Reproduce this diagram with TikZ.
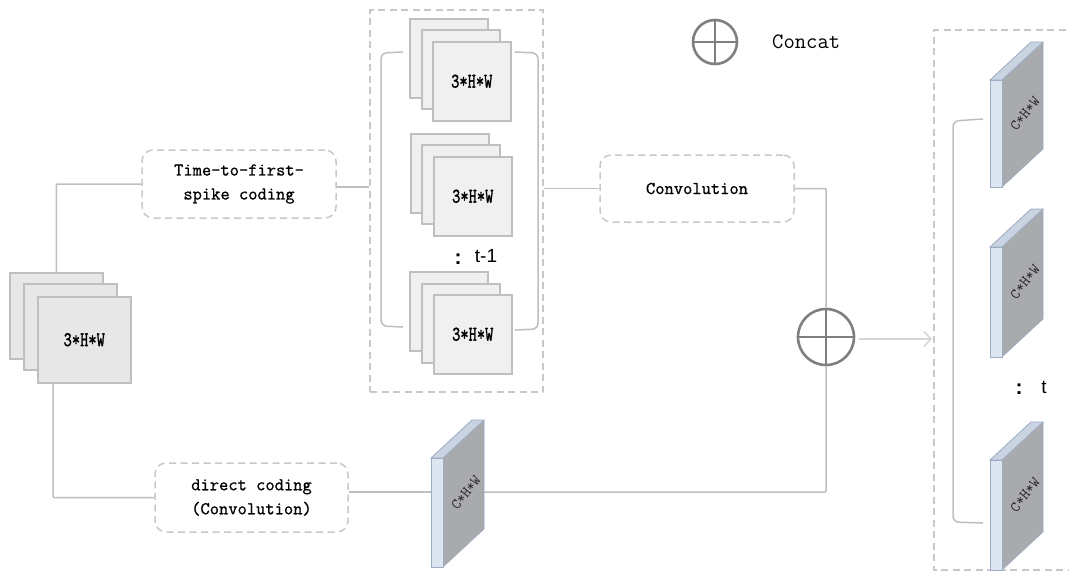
\documentclass[tikz,border=0pt]{standalone}
\usepackage{fontspec}
\usetikzlibrary{arrows.meta,calc}
\newfontfamily\labmono[FakeBold=0.9]{Latin Modern Mono}
\newfontfamily\labmonolt{Latin Modern Mono}
\newfontfamily\labmonob[FakeBold=1.8]{Latin Modern Mono}
\newfontfamily\labsans{Liberation Sans}
\definecolor{lg}{HTML}{BFBFBF}
\definecolor{dg}{HTML}{C8C8C8}
\definecolor{stkfill}{HTML}{F0F0F0}
\definecolor{lstkfill}{HTML}{E7E7E7}
\definecolor{cgray}{HTML}{7F7F7F}
\definecolor{slabgray}{HTML}{A8AAAE}
\definecolor{slabfront}{HTML}{DDE5F0}
\definecolor{slabtop}{HTML}{C9D3E2}
\definecolor{slabedge}{HTML}{9DACC2}
\definecolor{arrgray}{HTML}{D6D6D6}
\newcommand\drawslab[4]{% x, ytop, ybot, name
  \fill[slabgray] (#1+12,#2) -- (#1+53,#2-38) -- (#1+53,#3-38) -- (#1+12,#3) -- cycle;
  \filldraw[fill=slabtop,draw=slabedge,line width=0.8pt] (#1,#2) -- (#1+12,#2) -- (#1+53,#2-38) -- (#1+41,#2-38) -- cycle;
  \filldraw[fill=slabfront,draw=slabedge,line width=0.8pt] (#1,#2) rectangle (#1+12,#3);
  \draw[slabedge,line width=0.6pt] (#1+12,#3) -- (#1+53,#3-38) -- (#1+53,#2-38);
  \node[slabtxt] (#4) at (#1+35,{(#2+#3)/2-20}) {C*H*W};
}
\begin{document}
\begin{tikzpicture}[x=1pt,y=-1pt,
  conn/.style={draw=lg,line width=1.5pt,rounded corners=1pt},
  dbox/.style={draw=dg,line width=1.5pt,dash pattern=on 7pt off 4.5pt,rounded corners=11pt,
     font=\labmono\fontsize{18}{24}\selectfont,align=center,inner sep=0pt},
  dframe/.style={draw=dg,line width=1.5pt,dash pattern=on 7pt off 4.5pt},
  stk/.style={draw=lg,fill=stkfill,line width=1.5pt,minimum width=78pt,minimum height=79pt,
     inner sep=0pt,anchor=north west,font=\labmonob\fontsize{16}{16}\selectfont},
  lstk/.style={stk,fill=lstkfill,minimum width=93pt,minimum height=86pt},
  slabtxt/.style={rotate=52,inner sep=0pt,font=\labmonolt\fontsize{15}{15}\selectfont,text=black!85},
  ctxt/.style={font=\labsans\bfseries\fontsize{21}{21}\selectfont,inner sep=0pt},
  ttxt/.style={font=\labsans\fontsize{19}{19}\selectfont,inner sep=0pt},
  concat/.style={circle,draw=cgray,line width=2.6pt,inner sep=0pt}]
\useasboundingbox (0,0) rectangle (1069,581);
\clip (0,0) rectangle (1069,581);
\fill[white] (0,0) rectangle (1069,581);

% left input stack
\node[lstk] (ls1) at (9,272) {};
\node[lstk] (ls2) at (23,283) {};
\node[lstk] (ls3) at (37,296) {\scalebox{1}[1.3]{3*H*W}};

% coding boxes
\node[dbox,minimum width=194pt,minimum height=68pt] (tfs) at (239,184) {Time-to-first-\\spike coding};
\node[dbox,minimum width=193pt,minimum height=69pt] (dc) at (251.5,497.5) {direct coding\\(Convolution)};
\node[dbox,minimum width=194pt,minimum height=67pt] (conv) at (697,188.5) {Convolution};

% middle container
\node[dframe,minimum width=173pt,minimum height=382pt,inner sep=0pt] (midc) at (456.5,201) {};
\node[stk] (a1) at (409,18) {};
\node[stk] (a2) at (421,29) {};
\node[stk] (a3) at (432,41) {\scalebox{1}[1.3]{3*H*W}};
\node[stk] (b1) at (410,133) {};
\node[stk] (b2) at (421,144) {};
\node[stk] (b3) at (433,156) {\scalebox{1}[1.3]{3*H*W}};
\node[stk] (c1) at (409,271) {};
\node[stk] (c2) at (421,283) {};
\node[stk] (c3) at (433,294) {\scalebox{1}[1.3]{3*H*W}};
\node[ctxt] (dots1) at (458,259) {:};
\node[ttxt] (tm1) at (486,256) {t-1};
\coordinate (bl1) at (403,52);
\coordinate (bl2) at (403,327);
\coordinate (br1) at (515,52);
\coordinate (br2) at (515,330);
\draw[conn,rounded corners=6pt] (bl1) -- (381,53) -- (381,326) -- (bl2);
\draw[conn,rounded corners=6pt] (br1) -- (538,53) -- (538,329) -- (br2);

% right container
\path[dframe] (1100,30) -- (934,30) -- (934,570) -- (1100,570);
\coordinate (rcw) at (932,339);
\coordinate (rl1) at (983,119);
\coordinate (rl2) at (983,523);
\draw[conn,rounded corners=6pt] (rl1) -- (953,121) -- (953,522) -- (rl2);
\drawslab{990}{80}{187}{s1}
\drawslab{990}{247}{357}{s2}
\drawslab{990}{460}{570}{s3}
\node[ctxt] (dots2) at (1019,389) {:};
\node[ttxt] (tt) at (1044,387) {t};

% middle slab
\drawslab{431}{458}{567}{sm}
\coordinate (sml) at (431,492);
\coordinate (smr) at (484,492);

% concat symbol
\node[concat,minimum size=56pt] (cc) at (826,337) {};
\draw[conn] (conv.east) -| (cc.north);
\draw[conn] (cc.south) |- (smr);
\draw[cgray,line width=2.6pt] (cc.north) -- (cc.south) (cc.west) -- (cc.east);
\draw[arrgray,line width=1.5pt,-{Straight Barb[length=7pt,width=15pt,line width=1.5pt]}] ($(cc.east)+(4,2)$) -- (rcw);

% legend
\node[concat,minimum size=44pt] (lg) at (715,42) {};
\draw[cgray,line width=2.6pt] (lg.north) -- (lg.south) (lg.west) -- (lg.east);
\node[font=\labmonolt\fontsize{22}{22}\selectfont,anchor=west,inner sep=0pt] (lgt) at (772,42) {Concat};

% connectors
\draw[conn] (ls1.north) |- (tfs.west);
\draw[conn] ($(ls3.south west)+(16,0)$) |- (dc.west);
\draw[conn] ($(tfs.east)+(0,3)$) -- ($(tfs.east -| midc.west)+(0,3)$);
\draw[conn] (conv.west -| midc.east) -- (conv.west);
\draw[conn] (dc.east |- sml) -- (sml);
\end{tikzpicture}
\end{document}
